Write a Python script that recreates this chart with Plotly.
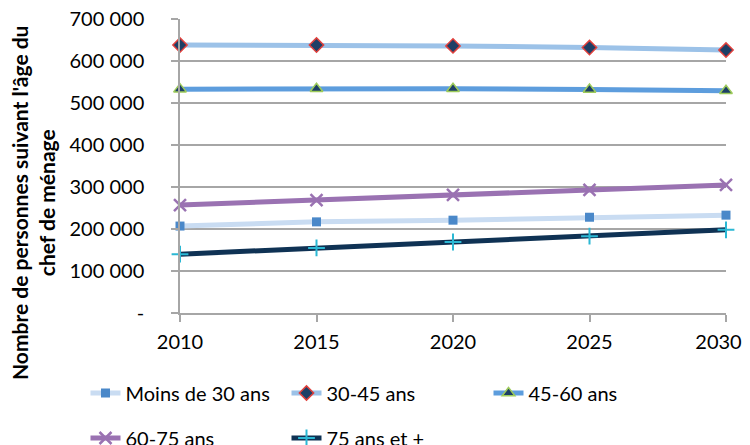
import plotly.graph_objects as go

years = [2010, 2015, 2020, 2025, 2030]
moins_30 = [207000, 217000, 221000, 228000, 233000]
age_30_45 = [638000, 638000, 636000, 632000, 626000]
age_45_60 = [533000, 534000, 534000, 532000, 529000]
age_60_75 = [257000, 269000, 281000, 293000, 305000]
age_75_plus = [140000, 155000, 169000, 183000, 198000]

x_ticktext = ["2010", "2015", "2020", "2025", "2030"]
y_tickvals = [0, 100000, 200000, 300000, 400000, 500000, 600000, 700000]
y_ticktext = ["-", "100 000", "200 000", "300 000", "400 000", "500 000", "600 000", "700 000"]

FONT = "Lato, 'Open Sans', sans-serif"
W, H = 742, 437  # page body has an 8px margin

series = [
    ("Moins de 30 ans", moins_30, "#c9dcf2", dict(symbol="square", color="#4a88c9", size=9)),
    ("30-45 ans", age_30_45, "#9cc2e8", dict(symbol="diamond", color="#1d3f66", size=11, line=dict(color="#e0403c", width=1.5))),
    ("45-60 ans", age_45_60, "#5d9ddd", dict(symbol="triangle-up", color="#1d3f66", size=11, line=dict(color="#9dcb5a", width=1.5))),
    ("60-75 ans", age_60_75, "#9a72b2", dict(symbol="x-thin", color="#9a72b2", size=12, line=dict(color="#9a72b2", width=2.5))),
    ("75 ans et +", age_75_plus, "#0f3254", dict(symbol="cross-thin", color="#2bb8d4", size=12, line=dict(color="#2bb8d4", width=2))),
]
# legend slot (text start x, row centre y) in page pixels
legend_slots = [(127, 393), (328, 393), (530, 393), (127, 438), (328, 438)]

fig = go.Figure()
legends = {}
for i, ((name, vals, lc, mk), (tx, ty)) in enumerate(zip(series, legend_slots)):
    key = "legend" if i == 0 else f"legend{i + 1}"
    fig.add_trace(go.Scatter(
        x=years, y=vals, name=name, mode="lines+markers",
        line=dict(color=lc, width=5), marker=mk, cliponaxis=False, legend=key,
    ))
    legends[key] = dict(
        orientation="h", xref="container", yref="container",
        x=(tx - 8 - 41.5) / W, y=(H - (ty - 8)) / H,
        xanchor="left", yanchor="middle",
        font=dict(size=20), bgcolor="rgba(0,0,0,0)",
    )

# keep the last tick label inside the visible page width
x_labels = x_ticktext[:-1] + [x_ticktext[-1] + "\u2003"]

fig.update_layout(
    width=W, height=H,
    margin=dict(l=172, r=24, t=11, b=132, autoexpand=False),
    paper_bgcolor="white", plot_bgcolor="white",
    font=dict(family=FONT, size=16, color="black"),
    showlegend=True,
    xaxis=dict(range=[2010, 2030], tickvals=years, ticktext=x_labels,
               showgrid=False, showline=True, linecolor="#a6a6a6", linewidth=1.5,
               ticks="outside", ticklen=7, tickcolor="#a6a6a6", tickwidth=1.5,
               ticklabelstandoff=3, tickfont=dict(size=20), zeroline=False, automargin=False,
               ticklabeloverflow="allow"),
    yaxis=dict(range=[0, 700000], tickvals=y_tickvals, ticktext=y_ticktext,
               showgrid=True, gridcolor="#a6a6a6", gridwidth=1.5,
               showline=True, linecolor="#a6a6a6", linewidth=1.5,
               ticks="outside", ticklen=7, tickcolor="#a6a6a6", tickwidth=1.5,
               ticklabelstandoff=23, tickfont=dict(size=20), zeroline=False, automargin=False,
               ticklabeloverflow="allow"),
    annotations=[dict(
        text="<b>Nombre de personnes suivant l'âge du<br>chef de ménage</b>",
        textangle=-90, xref="paper", yref="paper", x=(33 - 180) / 546, y=(313 - 203) / 294,
        xanchor="center", yanchor="middle", showarrow=False,
        font=dict(size=21, family=FONT),
    )],
)
fig.update_layout(**legends)

fig.write_html("out.html")
